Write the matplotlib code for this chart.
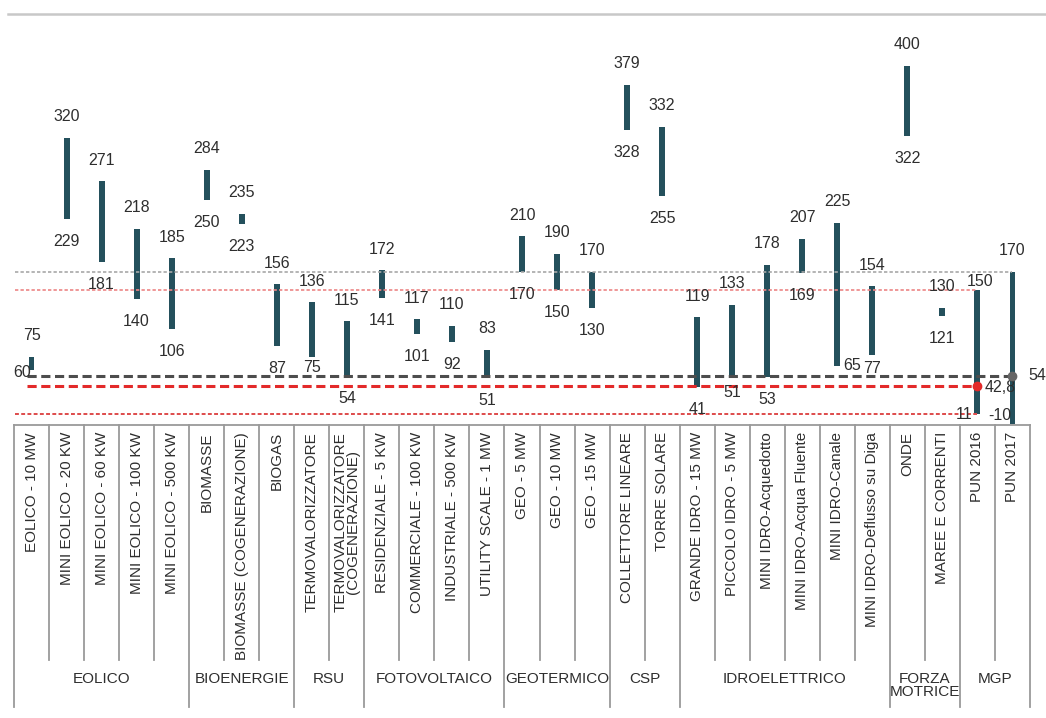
import matplotlib
matplotlib.use('Agg')
import matplotlib.pyplot as plt
from matplotlib import font_manager
from matplotlib.lines import Line2D

# font: condensed sans if available
names = {f.name for f in font_manager.fontManager.ttflist}
narrow = 'Liberation Sans Narrow' in names
plt.rcParams['font.family'] = 'Liberation Sans Narrow' if narrow else 'Liberation Sans'
fs_num = 13 if narrow else 11.5
fs_cat = 13 if narrow else 11
fs_grp = 13 if narrow else 11

# data
categories = ['EOLICO - 10 MW', 'MINI EOLICO - 20 KW', 'MINI EOLICO - 60 KW',
              'MINI EOLICO - 100 KW', 'MINI EOLICO - 500 KW',
              'BIOMASSE', 'BIOMASSE (COGENERAZIONE)', 'BIOGAS',
              'TERMOVALORIZZATORE', 'TERMOVALORIZZATORE\n(COGENERAZIONE)',
              'RESIDENZIALE - 5 KW', 'COMMERCIALE - 100 KW', 'INDUSTRIALE - 500 KW',
              'UTILITY SCALE - 1 MW',
              'GEO - 5 MW', 'GEO - 10 MW', 'GEO - 15 MW',
              'COLLETTORE LINEARE', 'TORRE SOLARE',
              'GRANDE IDRO - 15 MW', 'PICCOLO IDRO - 5 MW', 'MINI IDRO-Acquedotto',
              'MINI IDRO-Acqua Fluente', 'MINI IDRO-Canale', 'MINI IDRO-Deflusso su Diga',
              'ONDE', 'MAREE E CORRENTI',
              'PUN 2016', 'PUN 2017']
high = [75, 320, 271, 218, 185, 284, 235, 156, 136, 115, 172, 117, 110, 83,
        210, 190, 170, 379, 332, 119, 133, 178, 207, 225, 154, 400, 130, 150, 170]
low = [60, 229, 181, 140, 106, 250, 223, 87, 75, 54, 141, 101, 92, 51,
       170, 150, 130, 328, 255, 41, 51, 53, 169, 65, 77, 322, 121, 11, -10]
groups = ['EOLICO', 'BIOENERGIE', 'RSU', 'FOTOVOLTAICO', 'GEOTERMICO', 'CSP',
          'IDROELETTRICO', 'FORZA\nMOTRICE', 'MGP']
group_sizes = [5, 3, 2, 4, 3, 2, 6, 2, 2]
pun_mean = [42.8, 54]   # PUN 2016, PUN 2017

# styles
bar_col = '#24505c'
txt_col = '#2e2e2e'
grid_col = '#9a9a9a'
W, H = 1046, 718

fig = plt.figure(figsize=(W / 100, H / 100), dpi=100)
left, right = 14 / W, 1030 / W
ax = fig.add_axes([left, (H - 424) / H, right - left, (424 - 14) / H])
tab = fig.add_axes([left, (H - 707) / H, right - left, (707 - 425) / H])

n = len(categories)
x = [i + 0.5 for i in range(n)]

# range bars
ax.bar(x, [h - l for h, l in zip(high, low)], bottom=low, width=0.17, color=bar_col)

# reference lines from the PUN values
i16, i17 = n - 2, n - 1
ax.hlines(high[i17], 0.03, x[i17], colors='#a8a8a8', lw=1.2, linestyles=(0, (2, 1.3)))
ax.hlines(high[i16], 0.03, x[i16], colors='#ec8585', lw=1.2, linestyles=(0, (2, 1.3)))
ax.hlines(low[i16], 0.03, x[i16], colors='#de4b4b', lw=1.4, linestyles=(0, (2, 1.2)))
ax.hlines(pun_mean[1], 0.37, x[i17], colors='#4d4d4d', lw=2.2, linestyles=(0, (3, 1.5)))
ax.hlines(pun_mean[0], 0.37, x[i16], colors='#e32a2a', lw=2.2, linestyles=(0, (3, 1.5)))
ax.plot([x[i16]], [pun_mean[0]], 'o', color='#e32a2a', ms=6, zorder=5)
ax.plot([x[i17]], [pun_mean[1]], 'o', color='#666666', ms=6, zorder=5)

# value labels
hi_off = {i16: (3, 8)}
lo_off = {0: (-9, -2), 8: (0, -11), 20: (0, -14), 23: (15, 0), 24: (0, -13),
          i16: (-13, 0), i17: (-13, 17)}
for i in range(n):
    dx, dy = hi_off.get(i, (0, 21))
    ax.annotate(str(high[i]), (x[i], high[i]), xytext=(dx, dy), textcoords='offset pixels',
                ha='center', va='center', fontsize=fs_num, color=txt_col, annotation_clip=False)
    dx, dy = lo_off.get(i, (0, -22.5))
    ax.annotate(str(low[i]), (x[i], low[i]), xytext=(dx, dy), textcoords='offset pixels',
                ha='center', va='center', fontsize=fs_num, color=txt_col, annotation_clip=False)
ax.annotate(str(pun_mean[0]).replace('.', ','), (x[i16], pun_mean[0]), xytext=(23, -2),
            textcoords='offset pixels', ha='center', va='center', fontsize=fs_num, color=txt_col)
ax.annotate(str(pun_mean[1]), (x[i17], pun_mean[1]), xytext=(25, 0),
            textcoords='offset pixels', ha='center', va='center', fontsize=fs_num,
            color=txt_col, annotation_clip=False)

ax.set_xlim(0, n)
ax.set_ylim(0, 458)
ax.axis('off')

# category table
tab.set_xlim(0, n)
tab.set_ylim(0, 1)
tab.axis('off')
tab.plot([0, n], [1, 1], color=grid_col, lw=1.3, clip_on=False)
bounds = [0]
for s in group_sizes:
    bounds.append(bounds[-1] + s)
for i in range(n + 1):
    y0 = 0 if i in bounds else 0.167
    tab.plot([i, i], [y0, 1], color=grid_col, lw=1.3, clip_on=False)
for i, c in enumerate(categories):
    tab.text(x[i], 0.975, c, rotation=90, ha='center', va='top', fontsize=fs_cat,
             color=txt_col, linespacing=0.85)
for g, a, b in zip(groups, bounds[:-1], bounds[1:]):
    tab.text((a + b) / 2, 0.125, g, ha='center', va='top', fontsize=fs_grp,
             color=txt_col, linespacing=0.9)

# thin rule at the top of the frame
fig.add_artist(Line2D([8 / W, 1], [(H - 14) / H] * 2, color='#c8c8c8', lw=1.8))

fig.savefig('out.png', dpi=100)
